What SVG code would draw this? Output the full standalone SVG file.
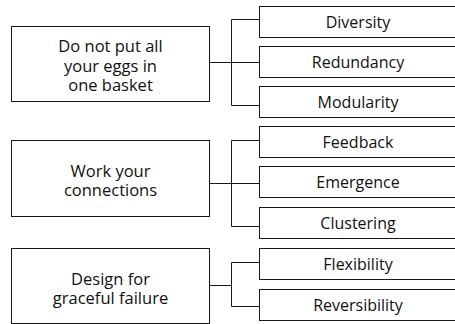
<svg xmlns="http://www.w3.org/2000/svg" width="455" height="324" viewBox="0 0 455 324">
<style>
.box{fill:#fff;stroke:#1a1a1a;stroke-width:1}
.lbl{font-family:"Open Sans","Noto Sans",sans-serif;font-size:16px;fill:#111;text-anchor:middle}
.big{font-size:16.5px}
.con{fill:none;stroke:#1a1a1a;stroke-width:1}
</style>
<rect width="455" height="324" fill="#fff"/>
<g id="connectors">
<path class="con" d="M209.5 62.5H231.5M231.5 19.5V105.5M231.5 19.5H259.5M231.5 62.5H259.5M231.5 105.5H259.5"/>
<path class="con" d="M209.5 183.5H231.5M231.5 140.5V226.5M231.5 140.5H259.5M231.5 183.5H259.5M231.5 226.5H259.5"/>
<path class="con" d="M209.5 285.5H231.5M231.5 262.5V306.5M231.5 262.5H259.5M231.5 306.5H259.5"/>
</g>
<g id="eggs">
<rect class="box" x="11.5" y="26.5" width="198" height="75"/>
<text class="lbl big" x="110.5" y="52">Do not put all</text>
<text class="lbl big" x="110.5" y="71.5">your eggs in</text>
<text class="lbl big" x="110.5" y="91">one basket</text>
</g>
<g id="connections">
<rect class="box" x="11.5" y="140.5" width="198" height="76"/>
<text class="lbl big" x="110.5" y="176.5">Work your</text>
<text class="lbl big" x="110.5" y="196">connections</text>
</g>
<g id="failure">
<rect class="box" x="11.5" y="248.5" width="198" height="75"/>
<text class="lbl big" x="110.5" y="285">Design for</text>
<text class="lbl big" x="110.5" y="304">graceful failure</text>
</g>
<g id="diversity">
<rect class="box" x="259.5" y="6.5" width="200" height="31"/>
<text class="lbl" x="358" y="28.3">Diversity</text>
</g>
<g id="redundancy">
<rect class="box" x="259.5" y="46.5" width="200" height="31"/>
<text class="lbl" x="358" y="68.3">Redundancy</text>
</g>
<g id="modularity">
<rect class="box" x="259.5" y="86.5" width="200" height="31"/>
<text class="lbl" x="358" y="108.3">Modularity</text>
</g>
<g id="feedback">
<rect class="box" x="259.5" y="126.5" width="200" height="31"/>
<text class="lbl" x="358" y="148">Feedback</text>
</g>
<g id="emergence">
<rect class="box" x="259.5" y="166.5" width="200" height="31"/>
<text class="lbl" x="358" y="188.3">Emergence</text>
</g>
<g id="clustering">
<rect class="box" x="259.5" y="207.5" width="200" height="31"/>
<text class="lbl" x="358" y="229">Clustering</text>
</g>
<g id="flexibility">
<rect class="box" x="259.5" y="248.5" width="200" height="31"/>
<text class="lbl" x="358" y="270">Flexibility</text>
</g>
<g id="reversibility">
<rect class="box" x="259.5" y="289.5" width="200" height="31"/>
<text class="lbl" x="358" y="310.6">Reversibility</text>
</g>
</svg>
